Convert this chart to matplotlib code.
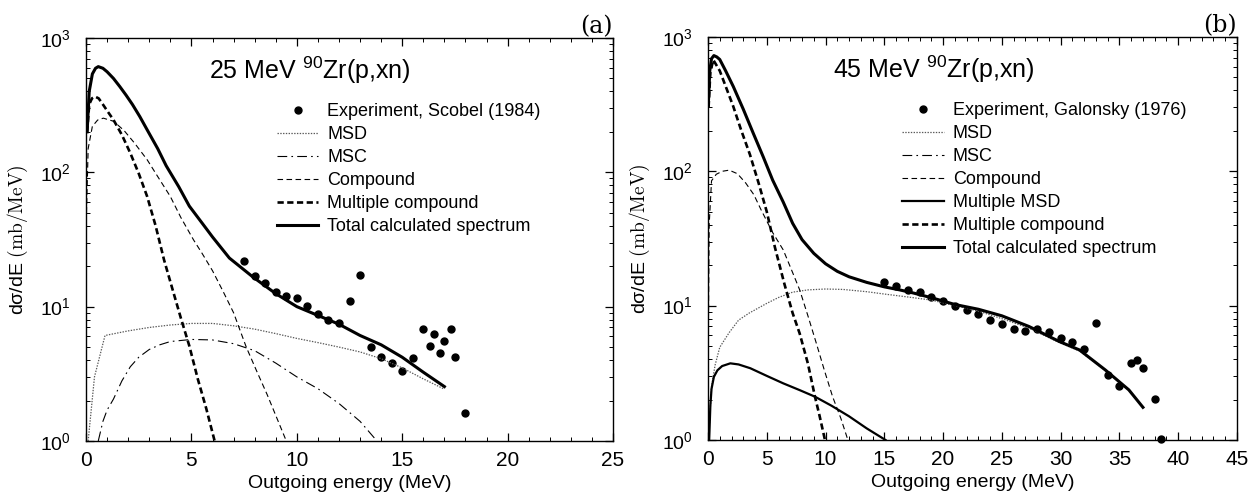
import matplotlib
matplotlib.use("Agg")
import matplotlib.pyplot as plt
from matplotlib.lines import Line2D
from matplotlib.legend_handler import HandlerLine2D
from matplotlib.ticker import MultipleLocator, LogLocator, NullFormatter

plt.rcParams['font.family'] = ['Liberation Sans', 'DejaVu Sans']
plt.rcParams['mathtext.fontset'] = 'custom'
plt.rcParams['mathtext.rm'] = 'Liberation Sans'
plt.rcParams['mathtext.it'] = 'Liberation Sans:italic'
plt.rcParams['mathtext.bf'] = 'Liberation Sans:bold'
plt.rcParams['lines.scale_dashes'] = False

# ---------------- Panel (a): 25 MeV ----------------
a_exp_E = [7.5, 8, 8.5, 9, 9.5, 10, 10.5, 11, 11.5, 12, 12.5, 13, 13.5, 14, 14.5, 15,
           15.5, 16, 16.3, 16.5, 16.8, 17, 17.3, 17.5, 18]
a_exp_V = [22, 17, 14.9, 12.9, 12.1, 11.5, 10.1, 8.8, 7.9, 7.5, 11.1, 17.1, 5.0, 4.24, 3.83, 3.32,
           4.15, 6.79, 5.07, 6.23, 4.54, 5.58, 6.79, 4.24, 1.62]

a_msd_E = [0.1, 0.4, 0.9, 2.0, 3.0, 4.0, 5.0, 6.0, 7.0, 8.0, 9.0, 10.0, 11.0, 12.0, 13.0, 14.0, 15.0, 16.0, 17.0]
a_msd_V = [1.0, 3.0, 6.1, 6.6, 7.0, 7.3, 7.5, 7.5, 7.2, 6.8, 6.3, 5.8, 5.4, 5.0, 4.6, 4.1, 3.5, 2.9, 2.43]

a_msc_E = [0.58, 0.8, 1.0, 1.3, 1.7, 2.1, 2.5, 3.0, 3.5, 4.0, 5.0, 6.0, 7.0, 8.0, 9.0, 10.0, 11.0, 12.0, 13.0, 13.8]
a_msc_V = [1.0, 1.4, 1.7, 2.05, 2.8, 3.57, 4.2, 4.8, 5.2, 5.5, 5.7, 5.65, 5.3, 4.7, 3.8, 3.0, 2.45, 1.9, 1.4, 1.0]

a_cmp_E = [0.02, 0.1, 0.3, 0.55, 0.82, 1.3, 1.8, 2.3, 2.9, 3.4, 4.0, 4.5, 5.1, 5.5, 6.0, 6.5, 7.0,
           7.6, 8.1, 8.6, 9.0, 9.5]
a_cmp_V = [50, 150, 220, 245, 253, 240, 205, 165, 124, 93, 66, 46, 31.4, 25, 18.5, 13, 9.0,
           5.0, 3.3, 2.2, 1.55, 1.0]

a_mc_E = [0.05, 0.15, 0.28, 0.43, 0.6, 0.8, 1.05, 1.3, 1.7, 2.1, 2.5, 2.9, 3.3, 3.7, 4.1, 4.5,
          4.9, 5.3, 5.7, 6.1]
a_mc_V = [200, 320, 355, 366, 355, 320, 280, 246, 190, 139, 98, 66, 40, 22.3, 13.5, 8.2,
          5.1, 2.9, 1.75, 1.0]

a_tot_E = [0.05, 0.15, 0.3, 0.45, 0.58, 0.8, 1.0, 1.3, 1.6, 1.9, 2.2, 2.55, 2.9, 3.4, 3.8, 4.4,
           4.9, 5.5, 6.0, 6.8, 7.9, 9.0, 10.0, 11.0, 12.0, 13.0, 14.0, 15.0, 16.0, 17.0]
a_tot_V = [200, 400, 540, 595, 612, 595, 560, 500, 435, 375, 320, 260, 207, 150, 112, 78,
           56, 42, 33, 23, 16.7, 12.5, 10, 8.6, 7.4, 6.1, 5.2, 4.2, 3.25, 2.54]

# ---------------- Panel (b): 45 MeV ----------------
b_exp_E = [15, 16, 17, 18, 19, 20, 21, 22, 23, 24, 25, 26, 27, 28, 29, 30, 31, 32, 33,
           34, 35, 36, 36.5, 37, 38, 38.5]
b_exp_V = [15.1, 14.1, 13.1, 12.6, 11.5, 10.9, 9.96, 9.29, 8.63, 7.83, 7.31, 6.67, 6.48, 6.67,
           6.34, 5.78, 5.34, 4.73, 7.39, 3.05, 2.52, 3.76, 3.94, 3.45, 2.03, 1.02]

b_msd_E = [0.05, 0.3, 0.6, 1.0, 1.8, 2.6, 3.5, 5.0, 6.0, 7.2, 8.5, 10.0, 11.5, 13.5, 15, 17, 19,
           21, 23, 25, 27.3, 29.9, 31.6, 33.8, 35.8, 37.0]
b_msd_V = [1.0, 2.5, 3.6, 4.9, 6.3, 7.8, 8.8, 10.4, 11.5, 12.6, 13.1, 13.3, 13.2, 12.7, 12.2, 11.6,
           11.0, 10.0, 9.1, 8.0, 6.8, 5.3, 4.6, 3.3, 2.35, 1.75]

b_cmp_E = [0.02, 0.1, 0.3, 0.7, 1.2, 1.8, 2.5, 3.2, 3.9, 4.5, 5.5, 6.4, 7.1, 7.8, 8.5, 9.2, 9.9,
           10.6, 11.3, 11.9]
b_cmp_V = [5, 40, 85, 95, 100, 102, 96, 82, 67, 52, 35, 26, 18.5, 13.1, 8.4, 5.3, 3.3, 2.1, 1.45, 1.0]

b_mmsd_E = [0.1, 0.2, 0.3, 0.5, 0.8, 1.2, 1.9, 2.6, 3.6, 5.0, 6.4, 7.8, 9.1, 10.5, 12.0, 13.5, 15.1]
b_mmsd_V = [1.0, 1.8, 2.4, 2.95, 3.3, 3.55, 3.72, 3.65, 3.42, 3.0, 2.64, 2.35, 2.1, 1.8, 1.5, 1.22, 1.0]

b_mc_E = [0.05, 0.2, 0.45, 1.0, 1.5, 2.15, 2.8, 3.57, 4.3, 5.0, 5.7, 6.5, 7.2, 7.8, 8.5, 9.1, 9.5, 9.95]
b_mc_V = [300, 550, 675, 560, 430, 304, 205, 133, 82, 50, 27, 14.5, 8.8, 6.2, 3.7, 2.1, 1.5, 1.0]

b_tot_E = [0.03, 0.15, 0.3, 0.5, 0.75, 1.0, 1.5, 2.15, 3.0, 3.85, 4.7, 5.5, 6.4, 7.2, 8.0, 9.0,
           10.0, 11.0, 12.0, 13.5, 15, 16.3, 17.5, 19.1, 21, 23, 25, 27.3, 29.9, 31.6, 33.8, 35.8, 37.0]
b_tot_V = [321, 560, 690, 727, 710, 680, 560, 428, 290, 192, 128, 86, 59, 41, 31, 24.5,
           20.5, 18, 16.4, 14.9, 13.8, 13.1, 12.4, 11.4, 10.2, 9.4, 8.4, 7.0, 5.4, 4.68, 3.32, 2.36, 1.75]

STY = {
    'exp': dict(ls='none', marker='o', ms=5, color='black'),
    'msd': dict(color='0.35', lw=0.9, dashes=(1.0, 1.0)),
    'msc': dict(color='black', lw=0.8, dashes=(7, 3, 1.2, 3)),
    'cmp': dict(color='black', lw=0.8, dashes=(4, 2.5)),
    'mmsd': dict(color='black', lw=1.6, ls='-'),
    'mc': dict(color='black', lw=1.9, dashes=(4.5, 2.5)),
    'tot': dict(color='black', lw=2.2, ls='-'),
}


class EndMarkerHandler(HandlerLine2D):
    def get_xdata(self, legend, xdescent, ydescent, width, height, fontsize):
        xdata = [-xdescent, -xdescent + width]
        return xdata, [-xdescent + 0.95 * width]


fig = plt.figure(figsize=(12.58, 5.01), dpi=100)
axA = fig.add_axes([0.0684, 0.1198, 0.4189, 0.8044])
axB = fig.add_axes([0.5628, 0.1218, 0.4205, 0.8044])


def style_axis(ax, xmax):
    ax.set_yscale('log')
    ax.set_ylim(1, 1000)
    ax.set_xlim(0, xmax)
    ax.xaxis.set_major_locator(MultipleLocator(5))
    ax.xaxis.set_minor_locator(MultipleLocator(1))
    ax.yaxis.set_major_locator(LogLocator(base=10, numticks=10))
    ax.yaxis.set_minor_locator(LogLocator(base=10, subs=range(2, 10), numticks=20))
    ax.yaxis.set_minor_formatter(NullFormatter())
    ax.tick_params(which='both', direction='in', top=True, right=True)
    ax.tick_params(which='major', length=6, width=0.9)
    ax.tick_params(which='minor', length=3, width=0.7)
    ax.tick_params(axis='x', labelsize=15, pad=7)
    ax.tick_params(axis='y', labelsize=14, pad=11)
    for s in ax.spines.values():
        s.set_linewidth(1.0)
    ax.set_xlabel('Outgoing energy (MeV)', fontsize=14, labelpad=4)
    ax.set_ylabel('dσ/dE $\\mathrm{(mb/MeV)}$', fontsize=14, math_fontfamily='cm', labelpad=7)


style_axis(axA, 25)
style_axis(axB, 45)

# panel a
axA.plot(a_exp_E, a_exp_V, label='Experiment, Scobel (1984)', clip_on=False, **STY['exp'])
axA.plot(a_msd_E, a_msd_V, label='MSD', **STY['msd'])
axA.plot(a_msc_E, a_msc_V, label='MSC', **STY['msc'])
axA.plot(a_cmp_E, a_cmp_V, label='Compound', **STY['cmp'])
axA.plot(a_mc_E, a_mc_V, label='Multiple compound', **STY['mc'])
axA.plot(a_tot_E, a_tot_V, label='Total calculated spectrum', **STY['tot'])

# panel b
axB.plot(b_exp_E, b_exp_V, label='Experiment, Galonsky (1976)', clip_on=False, **STY['exp'])
axB.plot(b_msd_E, b_msd_V, label='MSD', **STY['msd'])
axB.plot([], [], label='MSC', **STY['msc'])
axB.plot(b_cmp_E, b_cmp_V, label='Compound', **STY['cmp'])
axB.plot(b_mmsd_E, b_mmsd_V, label='Multiple MSD', **STY['mmsd'])
axB.plot(b_mc_E, b_mc_V, label='Multiple compound', **STY['mc'])
axB.plot(b_tot_E, b_tot_V, label='Total calculated spectrum', **STY['tot'])

for ax, xanch in ((axA, 0.362), (axB, 0.367)):
    ax.legend(loc='upper left', bbox_to_anchor=(xanch, 0.838), frameon=False,
              fontsize=13, borderpad=0, borderaxespad=0, handlelength=2.3,
              handletextpad=0.5, labelspacing=0.33, numpoints=1,
              handler_map={Line2D: EndMarkerHandler()})

axA.text(0.425, 0.92, '25 MeV $^{90}$Zr(p,xn)', transform=axA.transAxes,
         ha='center', va='center', fontsize=18)
axB.text(0.427, 0.92, '45 MeV $^{90}$Zr(p,xn)', transform=axB.transAxes,
         ha='center', va='center', fontsize=18)

axA.text(1.0, 1.0, '(a)', transform=axA.transAxes, ha='right', va='bottom',
         fontsize=17, family='DejaVu Serif')
axB.text(1.0, 1.0, '(b)', transform=axB.transAxes, ha='right', va='bottom',
         fontsize=17, family='DejaVu Serif')

fig.savefig('out.png', dpi=100)
